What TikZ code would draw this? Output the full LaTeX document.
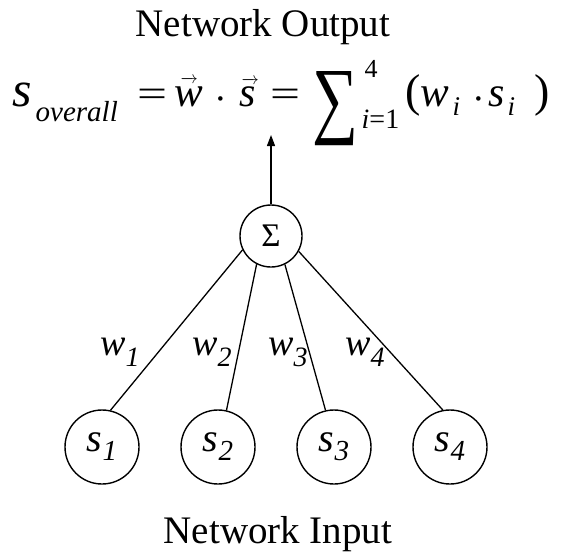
\documentclass[tikz,border=0pt]{standalone}
\usepackage{fontspec}
\setmainfont{Liberation Serif}
\usetikzlibrary{arrows.meta}
\newcommand{\placeat}[3]{\makebox[0pt][l]{\hspace*{#1}\raisebox{#2}{#3}}}
\newcommand{\fs}[1]{\fontsize{#1}{#1}\selectfont}
\newcommand{\vecbar}[1]{\fs{18}$\overrightarrow{\hbox to #1{}}$}
\tikzset{
  neuron/.style={draw, circle, line width=1.4pt, inner sep=0pt, minimum size=#1},
  conn/.style={line width=1.3pt},
  title/.style={font=\fs{39}, anchor=base},
  wlabel/.style={font=\fs{38}, anchor=base west, inner sep=0pt},
  slabel/.style={font=\fs{40}}
}
\begin{document}
\begin{tikzpicture}[x=1pt,y=-1pt]
\useasboundingbox (0,0) rectangle (561,552);
\node[title] (out) at (263,36) {Network Output};
\node[anchor=base west, inner sep=0pt, font=\fs{38}] (formula) at (0,106) {%
\placeat{12pt}{0pt}{\fs{50}\itshape s}%
\placeat{35pt}{-15pt}{\fs{29}\itshape overall}%
\placeat{137pt}{0pt}{\scalebox{1.4}[1]{=}}%
\placeat{174pt}{0pt}{\fs{43}\itshape w}%
\placeat{180pt}{24pt}{\vecbar{16pt}}%
\placeat{214pt}{-5pt}{·}%
\placeat{239pt}{0pt}{\fs{42}\itshape s}%
\placeat{241pt}{23pt}{\vecbar{14pt}}%
\placeat{270pt}{0pt}{\scalebox{1.4}[1]{=}}%
\placeat{312pt}{-21pt}{\resizebox{46pt}{56pt}{∑}}%
\placeat{364pt}{29pt}{\fs{26}4}%
\placeat{361pt}{-22pt}{\fs{28}\itshape i\upshape =1}%
\placeat{405pt}{0pt}{\fs{46}(}%
\placeat{420pt}{0pt}{\fs{43}\itshape w}%
\placeat{452pt}{-9pt}{\fs{27}\itshape i}%
\placeat{472pt}{-5pt}{·}%
\placeat{488pt}{0pt}{\fs{42}\itshape s}%
\placeat{507pt}{-9pt}{\fs{27}\itshape i}%
\placeat{534pt}{0pt}{\fs{46})}%
};
\node[neuron=62pt, font=\fs{33}] (sigma) at (271,236) {Σ};
\coordinate (top) at (271,135);
\node[neuron=74pt, slabel] (s1) at (102,447) {\itshape s\raisebox{-9pt}{\fs{29}1}};
\node[neuron=74pt, slabel] (s2) at (218,447) {\itshape s\raisebox{-9pt}{\fs{29}2}};
\node[neuron=74pt, slabel] (s3) at (334,447) {\itshape s\raisebox{-9pt}{\fs{29}3}};
\node[neuron=74pt, slabel] (s4) at (450,447) {\itshape s\raisebox{-9pt}{\fs{29}4}};
\draw[conn, -{Triangle[length=11pt,width=8pt]}] (sigma) -- (top);
\draw[conn] (sigma.206) -- (s1.77);
\draw[conn] (sigma.243) -- (s2.77);
\draw[conn] (sigma.296) -- (s3.103);
\draw[conn] (sigma.331) -- (s4.101);
\node[wlabel] (w1) at (100,355) {\itshape w\raisebox{-11pt}{\fs{28}1}};
\node[wlabel] (w2) at (192,355) {\itshape w\raisebox{-11pt}{\fs{28}2}};
\node[wlabel] (w3) at (268,355) {\itshape w\raisebox{-11pt}{\fs{28}3}};
\node[wlabel] (w4) at (345,355) {\itshape w\raisebox{-11pt}{\fs{28}4}};
\node[title] (in) at (278,543) {Network Input};
\end{tikzpicture}
\end{document}
